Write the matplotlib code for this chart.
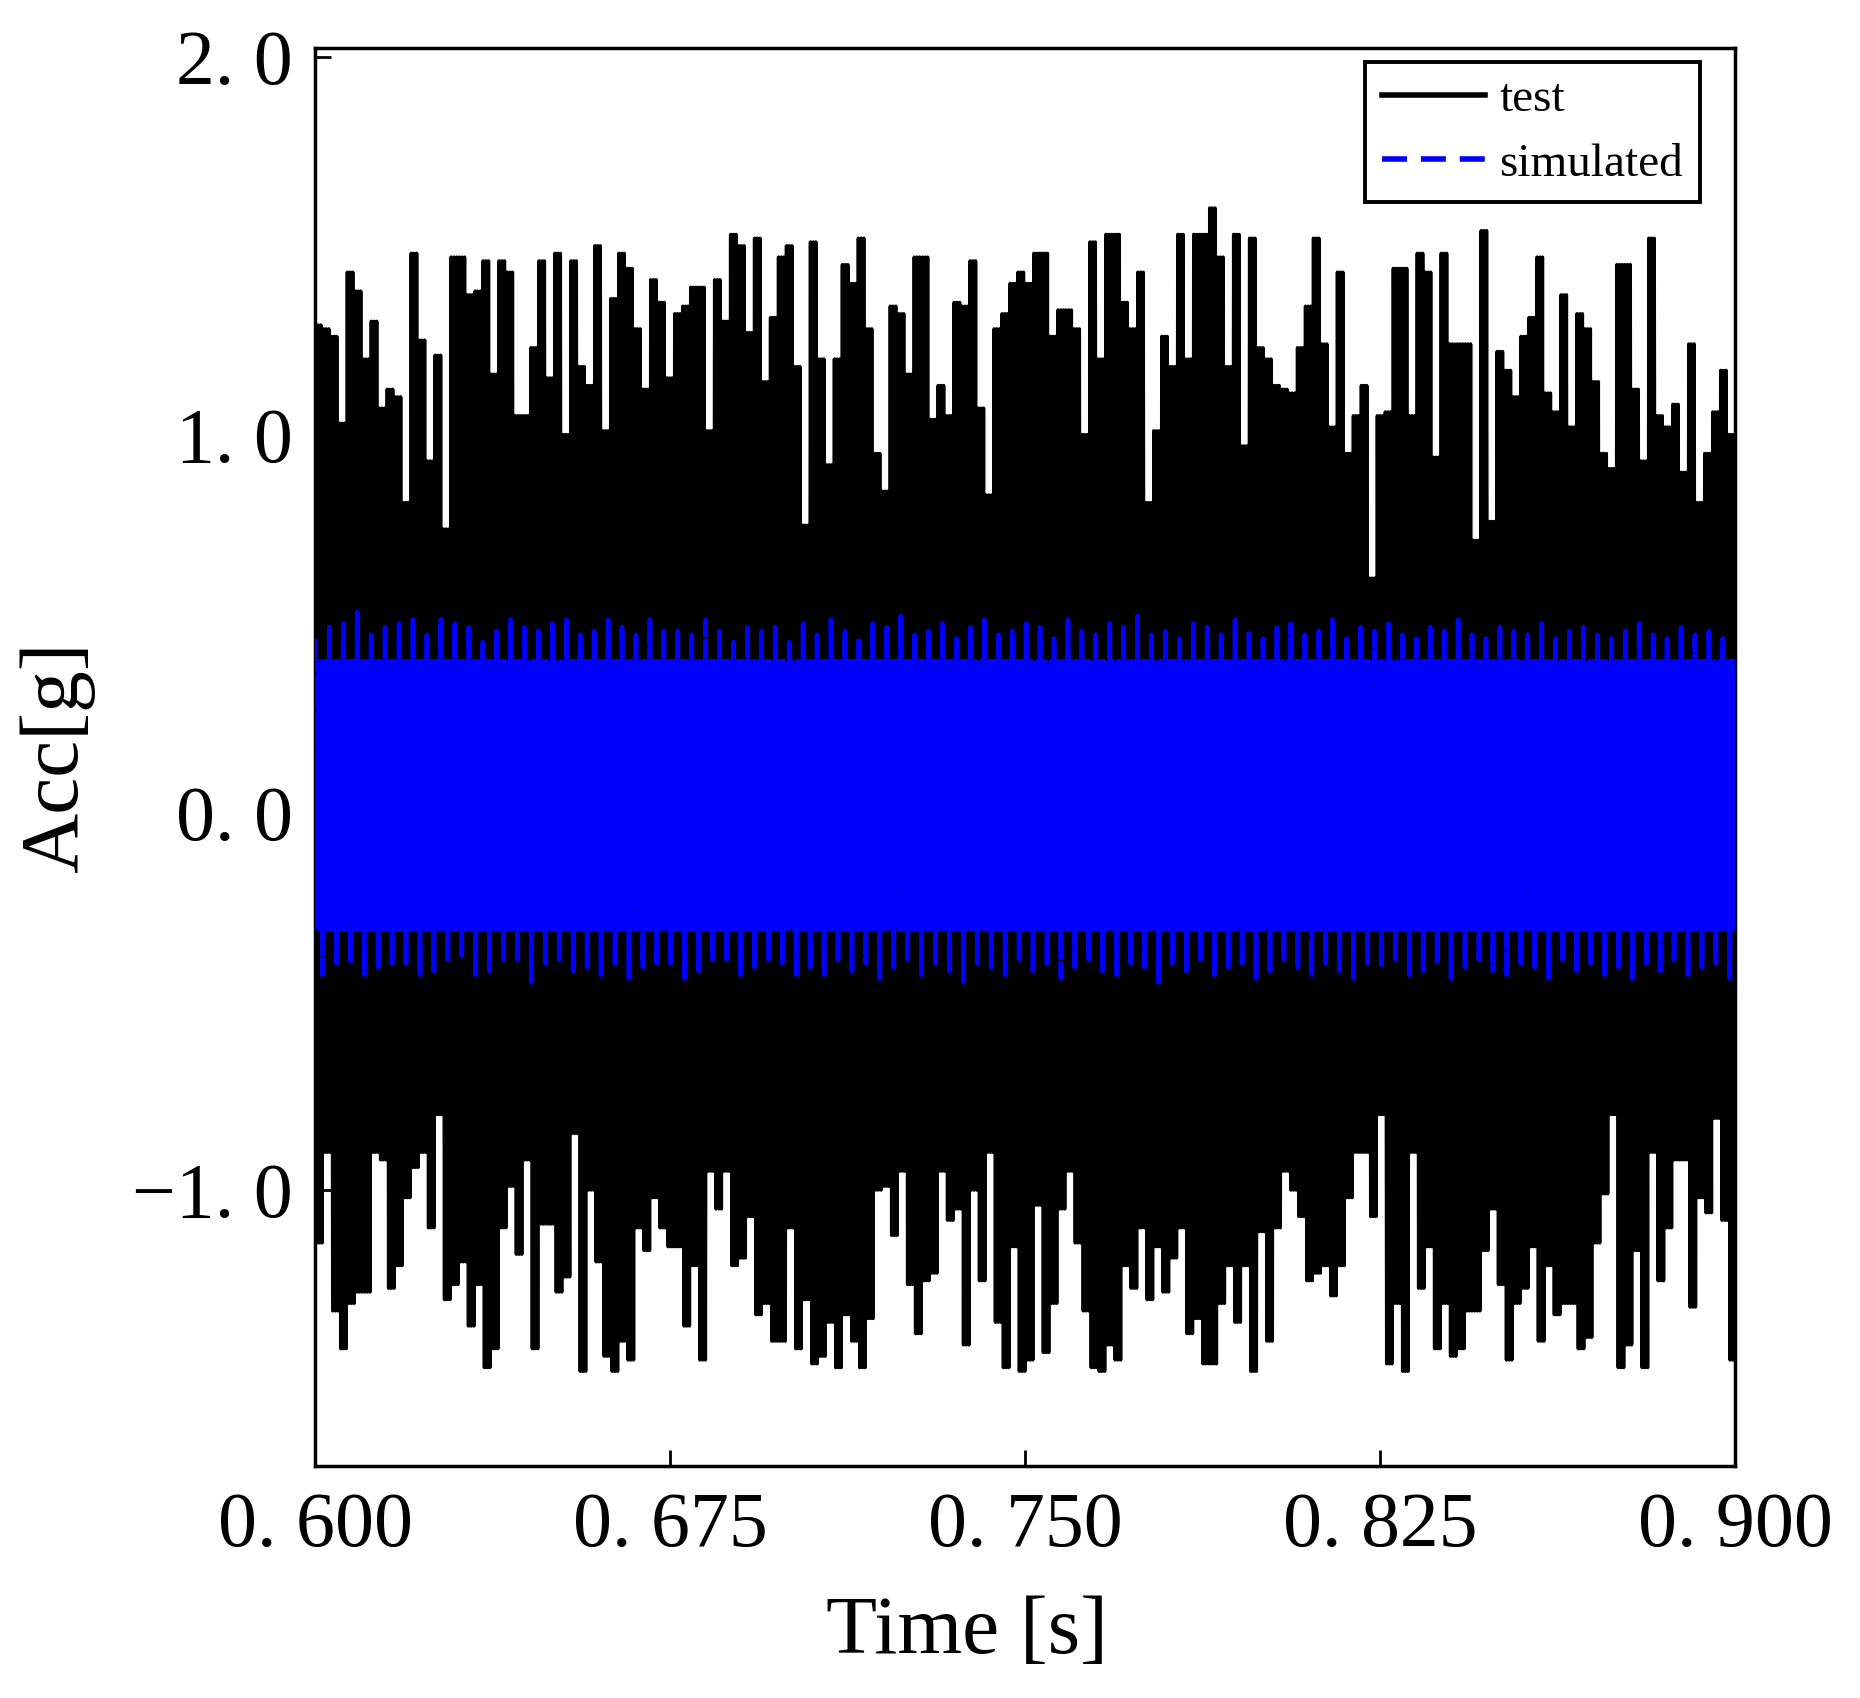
# test vs simulated acceleration, 0.6 ~ 0.9 s
import numpy as np
import matplotlib.pyplot as plt
from matplotlib.lines import Line2D

plt.rcParams['font.family'] = ['Liberation Serif', 'DejaVu Serif']

# test signal: upper / lower envelope (178 equal time windows)
test_hi = [
    1.29, 1.28, 1.26, 1.03, 1.43, 1.38, 1.20, 1.30, 1.07, 1.12,
    1.10, 0.82, 1.48, 1.25, 0.93, 1.21, 0.75, 1.47, 1.47, 1.37,
    1.38, 1.46, 1.16, 1.46, 1.43, 1.05, 1.05, 1.23, 1.46, 1.15,
    1.48, 1.00, 1.46, 1.18, 1.13, 1.50, 1.01, 1.36, 1.48, 1.44,
    1.28, 1.12, 1.41, 1.35, 1.15, 1.32, 1.34, 1.39, 1.39, 1.01,
    1.41, 1.30, 1.53, 1.50, 1.27, 1.52, 1.14, 1.31, 1.47, 1.50,
    1.18, 0.76, 1.51, 1.20, 0.92, 1.20, 1.45, 1.40, 1.52, 1.28,
    0.95, 0.85, 1.34, 1.32, 1.16, 1.47, 1.47, 1.04, 1.13, 1.05,
    1.35, 1.34, 1.46, 1.07, 0.84, 1.28, 1.32, 1.40, 1.43, 1.40,
    1.48, 1.48, 1.26, 1.33, 1.33, 1.28, 1.00, 1.51, 1.20, 1.53,
    1.53, 1.35, 1.28, 1.43, 0.82, 1.01, 1.26, 1.18, 1.53, 1.20,
    1.53, 1.53, 1.60, 1.47, 1.18, 1.53, 0.97, 1.52, 1.23, 1.20,
    1.13, 1.12, 1.11, 1.23, 1.34, 1.52, 1.24, 1.02, 1.43, 0.95,
    1.05, 1.13, 0.62, 1.05, 1.06, 1.44, 1.44, 1.05, 1.48, 1.43,
    0.94, 1.48, 1.24, 1.24, 1.24, 0.72, 1.54, 0.77, 1.22, 1.17,
    1.10, 1.26, 1.31, 1.47, 1.11, 1.06, 1.37, 1.02, 1.32, 1.28,
    1.14, 0.95, 0.91, 1.45, 1.45, 1.12, 0.93, 1.52, 1.05, 1.02,
    1.08, 0.90, 1.24, 0.82, 0.95, 1.06, 1.17, 1.00,
]
test_lo = [
    -1.14, -0.90, -1.32, -1.42, -1.30, -1.27, -1.27, -0.90, -0.92, -1.26,
    -1.20, -1.02, -0.94, -0.90, -1.10, -0.80, -1.29, -1.25, -1.19, -1.36,
    -1.25, -1.47, -1.42, -1.10, -0.99, -1.17, -0.92, -1.42, -1.09, -1.09,
    -1.27, -1.23, -0.85, -1.48, -1.00, -1.19, -1.44, -1.48, -1.40, -1.45,
    -1.10, -1.16, -1.02, -1.10, -1.15, -1.15, -1.36, -1.20, -1.45, -0.95,
    -1.05, -0.95, -1.20, -1.18, -1.07, -1.33, -1.30, -1.40, -1.40, -1.10,
    -1.42, -1.29, -1.46, -1.44, -1.35, -1.47, -1.33, -1.40, -1.47, -1.34,
    -1.00, -0.99, -1.12, -0.95, -1.25, -1.38, -1.24, -1.22, -0.95, -1.08,
    -1.05, -1.41, -1.00, -1.24, -0.90, -1.35, -1.47, -1.15, -1.48, -1.45,
    -1.04, -1.43, -1.30, -1.05, -0.95, -1.14, -1.32, -1.47, -1.48, -1.41,
    -1.45, -1.20, -1.26, -1.10, -1.29, -1.15, -1.27, -1.18, -1.10, -1.38,
    -1.34, -1.46, -1.46, -1.30, -1.20, -1.35, -1.20, -1.48, -1.11, -1.40,
    -1.10, -0.95, -1.00, -1.07, -1.24, -1.22, -1.20, -1.28, -1.20, -1.02,
    -0.90, -0.90, -1.07, -0.80, -1.46, -1.30, -1.48, -0.90, -1.26, -1.15,
    -1.42, -1.30, -1.44, -1.42, -1.32, -1.32, -1.16, -1.05, -1.25, -1.45,
    -1.30, -1.26, -1.15, -1.40, -1.20, -1.33, -1.30, -1.30, -1.42, -1.39,
    -1.14, -1.01, -0.80, -1.47, -1.41, -1.16, -1.47, -0.90, -1.24, -1.10,
    -0.92, -0.92, -1.31, -1.02, -1.06, -0.81, -1.08, -1.45,
]

# simulated signal: spike tops / bottoms (102 windows) and the solid core band
sim_hi = [
    0.46, 0.49, 0.50, 0.53, 0.47, 0.49, 0.50, 0.51, 0.47, 0.51,
    0.50, 0.49, 0.45, 0.48, 0.51, 0.49, 0.48, 0.50, 0.51, 0.47,
    0.48, 0.51, 0.49, 0.47, 0.51, 0.48, 0.48, 0.47, 0.51, 0.48,
    0.45, 0.49, 0.48, 0.49, 0.45, 0.50, 0.47, 0.51, 0.48, 0.46,
    0.50, 0.49, 0.52, 0.47, 0.48, 0.50, 0.46, 0.49, 0.51, 0.47,
    0.48, 0.50, 0.49, 0.46, 0.51, 0.48, 0.47, 0.50, 0.49, 0.52,
    0.47, 0.48, 0.46, 0.50, 0.49, 0.47, 0.51, 0.48, 0.46, 0.49,
    0.50, 0.47, 0.48, 0.51, 0.46, 0.49, 0.48, 0.50, 0.47, 0.46,
    0.49, 0.48, 0.51, 0.47, 0.46, 0.49, 0.48, 0.47, 0.50, 0.46,
    0.48, 0.49, 0.47, 0.46, 0.48, 0.50, 0.47, 0.46, 0.49, 0.47,
    0.48, 0.46,
]
sim_lo = [
    -0.43, -0.40, -0.40, -0.43, -0.41, -0.40, -0.40, -0.43, -0.42, -0.39,
    -0.38, -0.43, -0.42, -0.39, -0.39, -0.45, -0.40, -0.39, -0.42, -0.41,
    -0.43, -0.40, -0.44, -0.41, -0.40, -0.40, -0.44, -0.42, -0.39, -0.39,
    -0.43, -0.41, -0.39, -0.40, -0.43, -0.41, -0.43, -0.39, -0.42, -0.40,
    -0.44, -0.41, -0.39, -0.43, -0.40, -0.42, -0.45, -0.40, -0.41, -0.43,
    -0.39, -0.42, -0.40, -0.44, -0.41, -0.39, -0.42, -0.43, -0.40, -0.41,
    -0.45, -0.40, -0.42, -0.39, -0.43, -0.41, -0.40, -0.44, -0.42, -0.39,
    -0.41, -0.43, -0.40, -0.42, -0.44, -0.40, -0.41, -0.39, -0.43, -0.42,
    -0.40, -0.44, -0.41, -0.39, -0.42, -0.43, -0.40, -0.41, -0.44, -0.39,
    -0.42, -0.40, -0.43, -0.41, -0.44, -0.40, -0.42, -0.39, -0.43, -0.41,
    -0.40, -0.44,
]
sim_core_hi = 0.40
sim_core_lo = -0.31

x_ticks = [0.600, 0.675, 0.750, 0.825, 0.900]
x_tick_labels = ['0. 600', '0. 675', '0. 750', '0. 825', '0. 900']
y_ticks = [-1.0, 0.0, 1.0, 2.0]
y_tick_labels = ['\u22121. 0', '0. 0', '1. 0', '2. 0']

fig = plt.figure(figsize=(18.6, 16.98), dpi=100)
ax = fig.add_axes([0.1696, 0.1366, 0.7634, 0.8354])

# test: zigzag between the envelopes inside each window
n = len(test_hi)
t_test = np.linspace(0.6, 0.9, 6 * n)
y_test = np.column_stack([test_hi, test_lo] * 3).ravel()
ax.plot(t_test, y_test, color='black', lw=2.5, zorder=2)

# simulated: one spike up, one spike down per window, core filled in between
m = len(sim_hi)
hi = np.array(sim_hi)
lo = np.array(sim_lo)
ch = np.full(m, sim_core_hi)
cl = np.full(m, sim_core_lo)
y_sim = np.column_stack([hi, cl, ch, cl, ch, lo, ch, cl, ch, cl]).ravel()
t_sim = np.linspace(0.6, 0.9, 10 * m)
ax.plot(t_sim, y_sim, color='#0000ff', lw=3.4, ls=(0, (7.3, 0.45)), zorder=3)

ax.set_xlim(0.6, 0.9)
ax.set_ylim(-1.731, 2.025)
ax.set_xticks(x_ticks)
ax.set_xticklabels(x_tick_labels)
ax.set_yticks(y_ticks)
ax.set_yticklabels(y_tick_labels)
ax.tick_params(direction='in', length=11.5, width=2, labelsize=56,
               top=False, right=False)
ax.tick_params(axis='x', pad=18)
ax.tick_params(axis='y', pad=16)
for s in ax.spines.values():
    s.set_linewidth(2.5)

ax.set_xlabel('Time [s]', fontsize=60)
ax.xaxis.set_label_coords(0.459, -0.091)
ax.set_ylabel('Acc[g]', fontsize=60)
ax.yaxis.set_label_coords(-0.155, 0.5)

handles = [Line2D([], [], color='black', lw=4),
           Line2D([], [], color='#0000ff', lw=4, ls=(0, (4.5, 2.5)))]
leg = ax.legend(handles, ['test', 'simulated'], loc='upper right',
                bbox_to_anchor=(0.975, 0.99), borderaxespad=0, fontsize=34,
                frameon=True, fancybox=False, edgecolor='black', framealpha=1,
                handlelength=2.2, handletextpad=0.3, borderpad=0.35,
                labelspacing=0.45)
leg.get_frame().set_linewidth(2.8)
leg.set_zorder(5)

fig.savefig('out.png', dpi=100)
